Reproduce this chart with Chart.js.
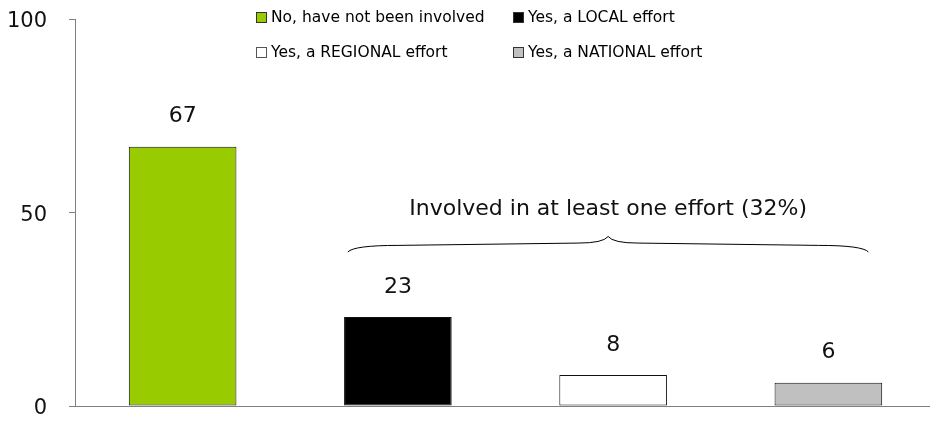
<!DOCTYPE html>
<html>
<head>
<meta charset="utf-8">
<script src="https://cdn.jsdelivr.net/npm/chart.js@4/dist/chart.umd.min.js"></script>
<style>
  html, body { margin: 0; padding: 0; background: #fff; overflow: hidden; }
  #wrap { width: 936px; height: 421px; }
</style>
</head>
<body>
<div id="wrap"><canvas id="chart"></canvas></div>
<script>
// data
const categories = ['No, have not been involved', 'Yes, a LOCAL effort', 'Yes, a REGIONAL effort', 'Yes, a NATIONAL effort'];
const values = [67, 23, 8, 6];
const barColors = ['#99cc00', '#000000', '#ffffff', '#c0c0c0'];
const yTicks = [0, 50, 100];
const braceText = 'Involved in at least one effort (32%)';

const FONT = '"DejaVu Sans", Verdana, sans-serif';

// value labels above the bars
const valueLabels = {
    id: 'valueLabels',
    afterDatasetsDraw(chart) {
        const ctx = chart.ctx;
        const meta = chart.getDatasetMeta(0);
        ctx.save();
        ctx.font = '22px ' + FONT;
        ctx.fillStyle = '#111';
        ctx.textAlign = 'center';
        ctx.textBaseline = 'middle';
        meta.data.forEach((bar, i) => {
            ctx.fillText(String(values[i]), bar.x, bar.y - 30);
        });
        ctx.restore();
    }
};

// the curly brace over the three "yes" bars
const bracePlugin = {
    id: 'brace',
    afterDraw(chart) {
        const ctx = chart.ctx;
        const x = chart.scales.x, y = chart.scales.y;
        const x0 = x.getPixelForValue(1) - 50;
        const x1 = x.getPixelForValue(3) + 40;
        const xm = (x0 + x1) / 2;
        const yEnd = y.getPixelForValue(39.8);
        const yShoulder = y.getPixelForValue(41.5);
        const yInner = y.getPixelForValue(42.1);
        const yTip = y.getPixelForValue(43.8);
        ctx.save();
        ctx.strokeStyle = '#000';
        ctx.lineWidth = 1;
        ctx.beginPath();
        ctx.moveTo(x0, yEnd);
        ctx.quadraticCurveTo(x0 + 6, yShoulder, x0 + 50, yShoulder);
        ctx.lineTo(xm - 30, yInner);
        ctx.quadraticCurveTo(xm - 5, yInner, xm, yTip);
        ctx.quadraticCurveTo(xm + 5, yInner, xm + 30, yInner);
        ctx.lineTo(x1 - 50, yShoulder);
        ctx.quadraticCurveTo(x1 - 6, yShoulder, x1, yEnd);
        ctx.stroke();
        ctx.font = '22px ' + FONT;
        ctx.fillStyle = '#111';
        ctx.textAlign = 'center';
        ctx.textBaseline = 'middle';
        ctx.fillText(braceText, xm, y.getPixelForValue(50.9));
        ctx.restore();
    }
};

// 2x2 legend at the top
const gridLegend = {
    id: 'gridLegend',
    afterDraw(chart) {
        const ctx = chart.ctx;
        const cols = [256, 513];
        const rows = [17, 52];
        ctx.save();
        ctx.font = '15.5px ' + FONT;
        ctx.textBaseline = 'middle';
        ctx.textAlign = 'left';
        categories.forEach((label, i) => {
            const bx = cols[i % 2];
            const by = rows[Math.floor(i / 2)];
            ctx.fillStyle = barColors[i];
            ctx.fillRect(bx, by - 5, 10, 10);
            ctx.strokeStyle = i === 2 ? '#555' : '#333';
            ctx.lineWidth = 1;
            ctx.strokeRect(bx + 0.5, by - 4.5, 10, 10);
            ctx.fillStyle = '#000';
            ctx.fillText(label, bx + 15, by + 1);
        });
        ctx.restore();
    }
};

new Chart(document.getElementById('chart'), {
    type: 'bar',
    data: {
        labels: categories,
        datasets: [{
            data: values,
            backgroundColor: barColors,
            borderColor: '#111',
            borderWidth: 1,
            borderSkipped: false,
            barPercentage: 0.5,
            categoryPercentage: 1
        }]
    },
    options: {
        responsive: true,
        maintainAspectRatio: false,
        animation: false,
        layout: { padding: { top: 19, bottom: 15, left: 0, right: 0 } },
        plugins: { legend: { display: false }, tooltip: { enabled: false } },
        scales: {
            x: {
                grid: { display: false },
                border: { display: true, color: '#808080', width: 1 },
                ticks: { display: false },
                afterFit(scale) { scale.height = 0; scale.paddingLeft = 0; scale.paddingRight = 0; }
            },
            y: {
                min: 0,
                max: 100,
                afterBuildTicks(scale) { scale.ticks = yTicks.map(v => ({ value: v })); },
                afterFit(scale) { scale.width = 75; scale.paddingTop = 0; scale.paddingBottom = 0; },
                grid: { drawOnChartArea: false, tickLength: 6, color: '#808080' },
                border: { display: true, color: '#808080', width: 1 },
                ticks: { padding: 22, labelOffset: 3, color: '#111', font: { family: FONT, size: 21 } }
            }
        }
    },
    plugins: [valueLabels, bracePlugin, gridLegend]
});
</script>
</body>
</html>
